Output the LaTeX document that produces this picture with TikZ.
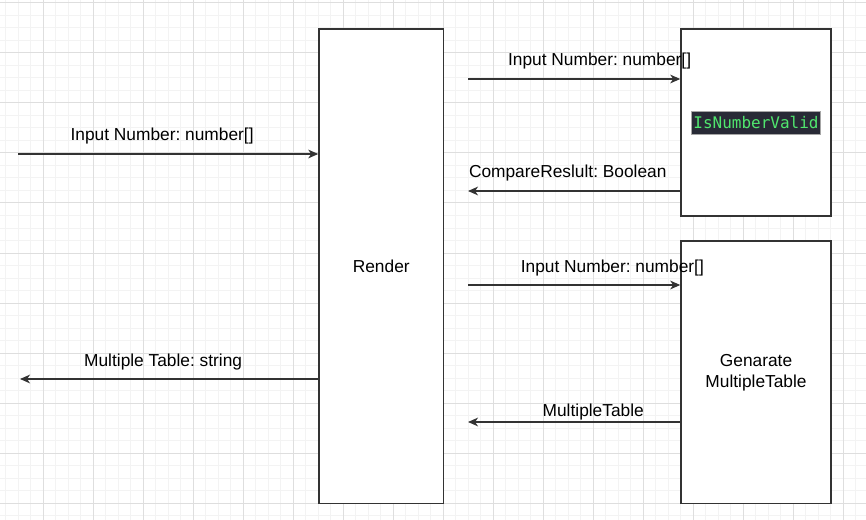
\documentclass[tikz,border=0pt]{standalone}
\usepackage{fontspec}
\setmainfont{Liberation Sans}
\setmonofont{DejaVu Sans Mono}
\frenchspacing
\usetikzlibrary{arrows.meta,calc}
\definecolor{GridClr}{RGB}{243,243,243}
\definecolor{GridMajorClr}{RGB}{222,222,222}
\definecolor{LineClr}{RGB}{51,51,51}
\definecolor{CodeBgClr}{RGB}{40,42,54}
\definecolor{CodeTxtClr}{RGB}{80,230,110}

\begin{document}
\begin{tikzpicture}[x=0.75pt,y=-0.75pt,
  box/.style={draw=LineClr,line width=1.1pt,fill=white,inner sep=0pt,align=center,font=\fontsize{13}{15.75}\selectfont},
  msg/.style={draw=LineClr,line width=1.1pt,-{Stealth[length=7.5pt,width=6.5pt,inset=2.2pt]}},
  msglbl/.style={anchor=base,inner sep=0pt,yshift=#1,font=\fontsize{13}{15.75}\selectfont},
  msglbl/.default=9.75pt]
\useasboundingbox (0,0) rectangle (866,520);

% Πλέγμα φόντου.
\begin{scope}
\clip (0,0) rectangle (866,520);
\fill[white] (0,0) rectangle (866,520);
\foreach \i in {0,...,69} \draw[GridClr,line width=0.75pt] ({5.5+12.5*\i},0) -- ++(0,520);
\foreach \j in {0,...,41} \draw[GridClr,line width=0.75pt] (0,{3+12.5*\j}) -- ++(866,0);
\foreach \i in {0,...,16} \draw[GridMajorClr,line width=0.75pt] ({43+50*\i},0) -- ++(0,520);
\foreach \j in {0,...,10} \draw[GridMajorClr,line width=0.75pt] (0,{3+50*\j}) -- ++(866,0);
\end{scope}

% Τα τρία ορθογώνια.
\node[box,minimum width=93.4pt,minimum height=355.9pt] (render) at (381.25,266.25) {Render};
\node[box,minimum width=112.5pt,minimum height=140.25pt] (valid) at (756,122.5) {};
\node[box,minimum width=112.5pt,minimum height=196.9pt] (gen) at (756,372.25) {Genarate\\MultipleTable};
\node[fill=CodeBgClr,draw=black!35,line width=0.4pt,text=CodeTxtClr,inner sep=1.5pt,minimum height=17.25pt,
  font=\ttfamily\fontsize{12}{14}\selectfont] (validtxt) at (valid.center) {IsNumberValid};

% Μηνύματα προς και από το Render.
\coordinate (inA) at (18,154);
\draw[msg] (inA) -- (inA -| render.west) node[msglbl,pos=.48] {Input Number: number[]};
\coordinate (outA) at (20,379);
\draw[msg] (outA -| render.west) -- (outA) node[msglbl,pos=.52] {Multiple Table: string};

% Μηνύματα προς το IsNumberValid.
\coordinate (askV) at (468,79);
\draw[msg] (askV) -- (askV -| valid.west) node[msglbl,pos=.62] {Input Number: number[]};
\coordinate (ansV) at (468,191);
\draw[msg] (ansV -| valid.west) -- (ansV) node[msglbl,pos=.53] {CompareReslult: Boolean};

% Μηνύματα προς το Genarate MultipleTable.
\coordinate (askG) at (468,285);
\draw[msg] (askG) -- (askG -| gen.west) node[msglbl,pos=.68] {Input Number: number[]};
\coordinate (ansG) at (468,422);
\draw[msg] (ansG -| gen.west) -- (ansG) node[msglbl=4.5pt,pos=.41] {MultipleTable};

\end{tikzpicture}
\end{document}
